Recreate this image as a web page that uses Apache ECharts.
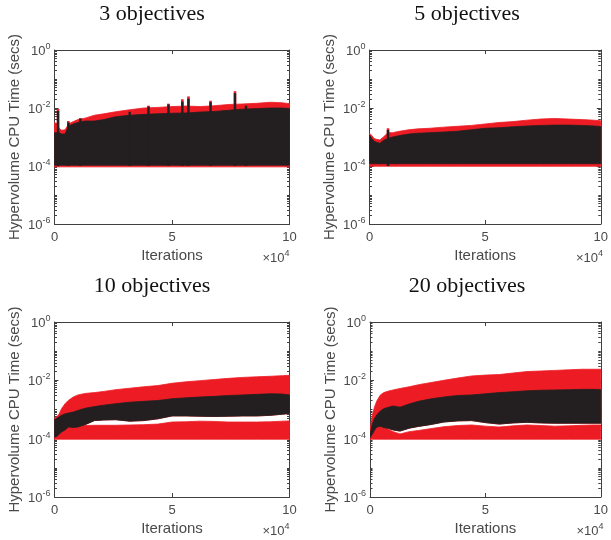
<!DOCTYPE html>
<html><head><meta charset="utf-8">
<script src="https://cdn.jsdelivr.net/npm/echarts@6/dist/echarts.min.js"></script>
<style>html,body{margin:0;padding:0;background:#fff}#c{width:611px;height:540px}</style>
</head><body><div id="c"></div>
<script>
// ---- data (values in seconds) ----
const panelTitles = ['3 objectives', '5 objectives', '10 objectives', '20 objectives'];
const iterations = [0,1000,2000,3000,4500,6000,8000,10000,13000,17000,21000,26000,32000,38000,44000,50000,56000,62000,68000,74000,80000,86000,92000,97000,100000];
const yTickValues = [1e-6, 1e-4, 1e-2, 1];
const xTickValues = [0, 50000, 100000];

// 3 objectives
const obj3RedTop = [0.00316,0.00282,0.00200,0.00170,0.00178,0.00282,0.00339,0.00398,0.00447,0.00562,0.00631,0.00741,0.00871,0.0100,0.0105,0.0112,0.0117,0.0112,0.0120,0.0132,0.0138,0.0145,0.0158,0.0151,0.0141];
const obj3BlackTop = [0.00141,0.00141,0.00141,0.00126,0.00126,0.00240,0.00282,0.00316,0.00355,0.00355,0.00398,0.00501,0.00562,0.00603,0.00631,0.00661,0.00676,0.00724,0.00759,0.00832,0.00912,0.00955,0.0100,0.0100,0.00955];
const obj3BlackFloor = 0.000107;
const obj3RedFloor = 0.0000933;
const obj3SpikeX = [1500, 5900, 11000, 32000, 40000, 48500, 54400, 57000, 66400, 76800, 81500];
const obj3SpikeBlack = [0.0079, 0.00316, 0.00437, 0.00741, 0.0112, 0.0132, 0.0166, 0.0209, 0.0158, 0.0324, 0.0120];
const obj3SpikeRed = [0.0093, 0.00355, 0.00437, 0.00741, 0.0120, 0.0141, 0.0200, 0.0251, 0.0178, 0.0380, 0.0120];

// 5 objectives
const obj5RedTop = [0.00135,0.00112,0.000891,0.000832,0.000794,0.00100,0.00141,0.00141,0.00158,0.00178,0.00191,0.00200,0.00219,0.00234,0.00251,0.00282,0.00316,0.00339,0.00380,0.00417,0.00437,0.00417,0.00398,0.00380,0.00363];
const obj5BlackTop = [0.00117,0.000891,0.000708,0.000661,0.000603,0.000759,0.000891,0.00100,0.00112,0.00126,0.00135,0.00141,0.00148,0.00158,0.00178,0.00200,0.00209,0.00224,0.00240,0.00251,0.00257,0.00257,0.00251,0.00240,0.00229];
const obj5BlackFloor = 0.000120;
const obj5RedFloor = 0.0000977;
const obj5SpikeX = [8000];
const obj5SpikeBlack = [0.00174];
const obj5SpikeRed = [0.00200];

// 10 objectives
const obj10RedTop = [0.000501,0.000562,0.000708,0.00107,0.00158,0.00209,0.00269,0.00316,0.00355,0.00380,0.00417,0.00479,0.00537,0.00603,0.00661,0.00794,0.00891,0.00977,0.0107,0.0117,0.0126,0.0132,0.0138,0.0145,0.0148];
const obj10BlackTop = [0.000447,0.000501,0.000562,0.000631,0.000708,0.000759,0.000813,0.000933,0.00110,0.00126,0.00141,0.00158,0.00178,0.00191,0.00204,0.00234,0.00251,0.00269,0.00282,0.00302,0.00316,0.00331,0.00347,0.00339,0.00316];
const obj10BlackBottom = [0.000112,0.000120,0.000141,0.000170,0.000200,0.000251,0.000240,0.000251,0.000302,0.000417,0.000437,0.000447,0.000398,0.000417,0.000479,0.000603,0.000603,0.000589,0.000575,0.000589,0.000603,0.000603,0.000631,0.000692,0.000724];
const obj10LowRedTop = [0.000126,0.000141,0.000158,0.000178,0.000224,0.000251,0.000251,0.000282,0.000282,0.000288,0.000288,0.000288,0.000295,0.000302,0.000316,0.000372,0.000380,0.000398,0.000389,0.000372,0.000372,0.000372,0.000380,0.000398,0.000407];
const obj10RedFloor = 0.0000955;

// 20 objectives
const obj20RedTop = [0.000200,0.000631,0.00126,0.00200,0.00316,0.00380,0.00427,0.00468,0.00525,0.00603,0.00708,0.00832,0.0100,0.0120,0.0141,0.0151,0.0158,0.0178,0.0200,0.0209,0.0219,0.0229,0.0240,0.0240,0.0240];
const obj20BlackTop = [0.000141,0.000316,0.000501,0.000661,0.000891,0.00107,0.00120,0.00132,0.00120,0.00155,0.00191,0.00229,0.00269,0.00302,0.00316,0.00347,0.00380,0.00407,0.00437,0.00457,0.00468,0.00479,0.00490,0.00490,0.00479];
const obj20BlackBottom = [0.000107,0.000141,0.000200,0.000251,0.000263,0.000240,0.000224,0.000200,0.000182,0.000229,0.000263,0.000302,0.000372,0.000407,0.000417,0.000355,0.000316,0.000347,0.000363,0.000347,0.000339,0.000339,0.000339,0.000339,0.000339];
const obj20LowRedTop = [0.000126,0.000158,0.000224,0.000251,0.000251,0.000240,0.000209,0.000174,0.000145,0.000174,0.000191,0.000219,0.000257,0.000282,0.000295,0.000269,0.000251,0.000275,0.000295,0.000282,0.000269,0.000275,0.000288,0.000295,0.000295];
const obj20RedFloor = 0.0000955;

// ---- build ----
const RED = '#ED1C24', BLACK = '#231F20', AX = '#404040', TXT = '#4a4a4a';
const panels = [
  {redTop: obj3RedTop, blackTop: obj3BlackTop, blackBottom: obj3BlackFloor, lowRedTop: null, redFloor: obj3RedFloor, sx: obj3SpikeX, sb: obj3SpikeBlack, sr: obj3SpikeRed},
  {redTop: obj5RedTop, blackTop: obj5BlackTop, blackBottom: obj5BlackFloor, lowRedTop: null, redFloor: obj5RedFloor, sx: obj5SpikeX, sb: obj5SpikeBlack, sr: obj5SpikeRed},
  {redTop: obj10RedTop, blackTop: obj10BlackTop, blackBottom: obj10BlackBottom, lowRedTop: obj10LowRedTop, redFloor: obj10RedFloor, sx: [], sb: [], sr: []},
  {redTop: obj20RedTop, blackTop: obj20BlackTop, blackBottom: obj20BlackBottom, lowRedTop: obj20LowRedTop, redFloor: obj20RedFloor, sx: [], sb: [], sr: []}
];
const gridPos = [
  {left: 54.5, top: 50, width: 235, height: 174},
  {left: 369.5, top: 50, width: 233.5, height: 174},
  {left: 54.5, top: 322, width: 235, height: 175},
  {left: 370, top: 322, width: 233.5, height: 175}
];
const minorVals = [];
for (let e = -6; e < 0; e++) for (let k = 2; k <= 9; k++) minorVals.push(k * Math.pow(10, e));
for (let e = -5; e < 0; e += 2) minorVals.push(Math.pow(10, e));

const val = (v, i) => (typeof v === 'number' ? v : v[i]);
function poly(api, top, bottom, color) {
  const pts = [];
  iterations.forEach((x, i) => pts.push(api.coord([x, val(top, i)])));
  for (let i = iterations.length - 1; i >= 0; i--) pts.push(api.coord([iterations[i], val(bottom, i)]));
  return {type: 'polygon', shape: {points: pts}, style: {fill: color, stroke: color, lineWidth: 0.8}};
}

const grid = [], xAxis = [], yAxis = [], series = [], graphic = [];
const supLabel = v => '{b|10}{s|' + Math.round(Math.log10(v)) + '}';
gridPos.forEach((g, p) => {
  grid.push(Object.assign({containLabel: false}, g));
  const common = {gridIndex: p, type: 'value', min: 0, max: 100000, interval: 50000,
    axisLine: {show: true, lineStyle: {color: AX, width: 1}}, splitLine: {show: false}};
  xAxis.push(Object.assign({}, common, {position: 'bottom',
    axisTick: {inside: true, length: 4, lineStyle: {color: AX}},
    axisLabel: {color: TXT, fontSize: 13, fontFamily: 'Liberation Sans', margin: 7, formatter: v => String(v / 10000)},
    name: 'Iterations', nameLocation: 'middle', nameGap: 24,
    nameTextStyle: {color: TXT, fontSize: 15, fontFamily: 'Liberation Sans'}}));
  xAxis.push(Object.assign({}, common, {position: 'top',
    axisTick: {inside: true, length: 4, lineStyle: {color: AX}}, axisLabel: {show: false}}));
  const ycommon = {gridIndex: p, type: 'log', logBase: 10, min: 1e-6, max: 1, splitLine: {show: false}};
  ['left', 'right'].forEach(side => {
    yAxis.push(Object.assign({}, ycommon, {position: side,
      axisLine: {show: true, lineStyle: {color: AX, width: 1}},
      axisTick: {inside: true, length: 4, customValues: yTickValues, lineStyle: {color: AX}},
      axisLabel: side === 'left' ? {show: true, customValues: yTickValues, margin: 4, color: TXT, fontFamily: 'Liberation Sans',
        formatter: supLabel,
        rich: {b: {fontSize: 13, fontFamily: 'Liberation Sans', color: TXT, verticalAlign: 'bottom', lineHeight: 16},
               s: {fontSize: 9, fontFamily: 'Liberation Sans', color: TXT, verticalAlign: 'top', lineHeight: 16, padding: [0, 0, 0, 0]}}} : {show: false},
      name: side === 'left' ? 'Hypervolume CPU Time (secs)' : '', nameLocation: 'middle', nameGap: 32,
      nameTextStyle: {color: TXT, fontSize: 15, fontFamily: 'Liberation Sans'}}));
    yAxis.push(Object.assign({}, ycommon, {position: side,
      axisLine: {show: false},
      axisTick: {inside: true, length: 2.5, customValues: minorVals, lineStyle: {color: AX}},
      axisLabel: {show: false}}));
  });
  const P = panels[p];
  series.push({
    type: 'custom', xAxisIndex: p * 2, yAxisIndex: p * 4, clip: true, silent: true,
    data: [[0, 1e-4]],
    renderItem: (params, api) => {
      const ch = [];
      if (P.lowRedTop) {
        ch.push(poly(api, P.redTop, P.blackBottom, RED));
        ch.push(poly(api, P.lowRedTop, P.redFloor, RED));
      } else {
        ch.push(poly(api, P.redTop, P.redFloor, RED));
      }
      P.sx.forEach((x, i) => {
        const a = api.coord([x, P.sr[i]]), b = api.coord([x, 1e-4]);
        ch.push({type: 'rect', shape: {x: a[0] - 1.3, y: a[1], width: 2.6, height: b[1] - a[1]}, style: {fill: RED}});
      });
      ch.push(poly(api, P.blackTop, P.blackBottom, BLACK));
      P.sx.forEach((x, i) => {
        const a = api.coord([x, P.sb[i]]), b = api.coord([x, 1e-4]);
        ch.push({type: 'rect', shape: {x: a[0] - 1.2, y: a[1], width: 2.4, height: b[1] - a[1]}, style: {fill: BLACK}});
      });
      return {type: 'group', children: ch};
    }
  });
  const cx = p % 2 === 0 ? 152 : 467;
  const ty = p < 2 ? 14 : 286;
  graphic.push({type: 'text', x: cx, y: ty, style: {text: panelTitles[p], font: '22px "Liberation Serif"', fill: '#111', align: 'center', verticalAlign: 'middle'}});
  graphic.push({type: 'text', x: g.left + g.width, y: g.top + g.height + 33, style: {
    text: '{a|\u00d710}{s|4}', align: 'right', verticalAlign: 'middle',
    rich: {a: {fontSize: 13, fontFamily: 'Liberation Sans', fill: TXT, verticalAlign: 'bottom', lineHeight: 16},
           s: {fontSize: 9, fontFamily: 'Liberation Sans', fill: TXT, verticalAlign: 'top', lineHeight: 16}}}});
});

const chart = echarts.init(document.getElementById('c'), null, {renderer: 'canvas'});
chart.setOption({animation: false, backgroundColor: '#fff', grid, xAxis, yAxis, series, graphic});
</script></body></html>
